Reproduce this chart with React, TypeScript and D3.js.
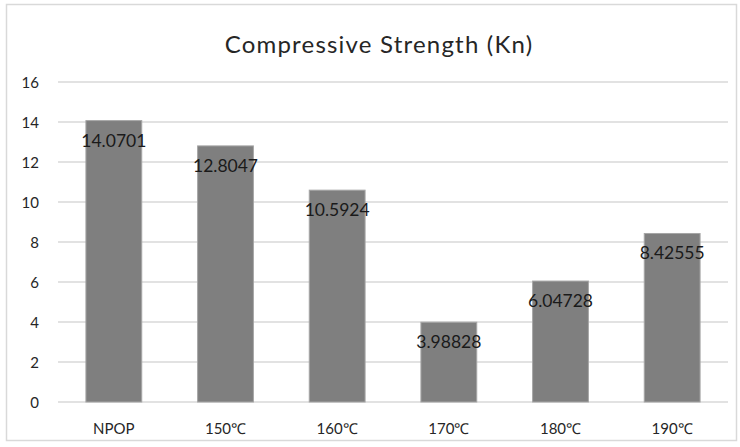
import React from "react";
import * as d3 from "d3";

const categories = ["NPOP", "150℃", "160℃", "170℃", "180℃", "190℃"];
const values = [14.0701, 12.8047, 10.5924, 3.98828, 6.04728, 8.42555];
const labels = ["14.0701", "12.8047", "10.5924", "3.98828", "6.04728", "8.42555"];
const yTicks = [0, 2, 4, 6, 8, 10, 12, 14, 16];
const title = "Compressive Strength (Kn)";

const W = 740;
const H = 447;
const FONT = "Lato, 'Open Sans', sans-serif";

export default function App() {
  const left = 58, right = 728, top = 82, bottom = 402;
  const x = d3.scaleBand<string>().domain(categories).range([left, right]).paddingInner(0.5).paddingOuter(0.25);
  const y = d3.scaleLinear().domain([0, 16]).range([bottom, top]);
  return (
    <svg width={W} height={H} style={{ position: "absolute", left: 0, top: 0, background: "#fff" }}>
      <rect x={6.5} y={4.5} width={730} height={436} fill="#fff" stroke="#d9d9d9" strokeWidth={1.5} />
      <text x={379} y={53} textAnchor="middle" fontFamily={FONT} fontSize={24} letterSpacing={1.2} fill="#262626">{title}</text>
      {yTicks.map((t) => (
        <g key={t}>
          <line x1={left} x2={right} y1={y(t)} y2={y(t)} stroke="#d9d9d9" strokeWidth={1.5} />
          <text x={39} y={y(t) + 5.5} textAnchor="end" fontFamily={FONT} fontSize={15} fill="#262626">{t}</text>
        </g>
      ))}
      {categories.map((c, i) => (
        <g key={c}>
          <rect x={x(c)!} y={y(values[i])} width={x.bandwidth()} height={bottom - y(values[i])} fill="#7f7f7f" stroke="#a6a6a6" strokeWidth={1} />
          <text x={x(c)! + x.bandwidth() / 2} y={y(values[i]) + 26} textAnchor="middle" fontFamily={FONT} fontSize={17.5} fill="#1a1a1a">{labels[i]}</text>
          <text x={x(c)! + x.bandwidth() / 2} y={434} textAnchor="middle" fontFamily={FONT} fontSize={15} fill="#262626">{c}</text>
        </g>
      ))}
    </svg>
  );
}
